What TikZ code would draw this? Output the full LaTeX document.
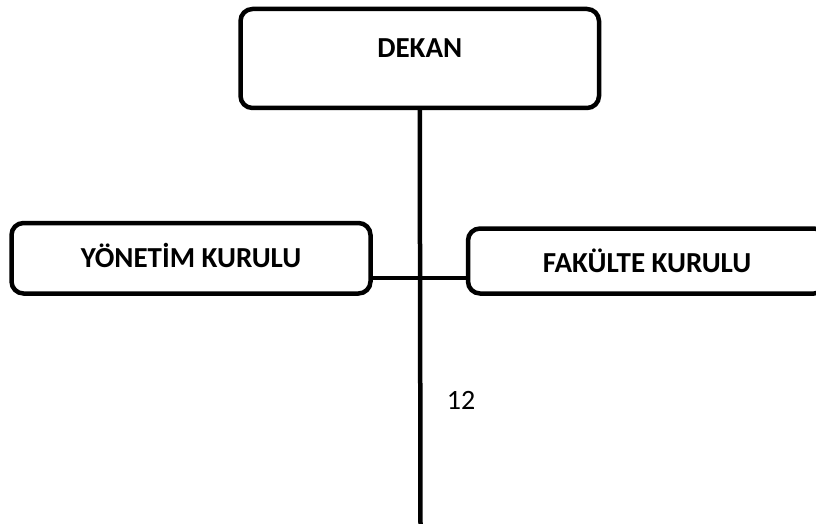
\documentclass[tikz,border=0pt]{standalone}
\usepackage{fontspec}
\setmainfont{Carlito}
\begin{document}
\begin{tikzpicture}[x=1pt, y=-1pt,
    kutu/.style={draw, line width=4.5pt, rounded corners=12pt, inner sep=0pt, outer sep=0pt,
      font=\fontsize{29}{30}\selectfont\bfseries},
    cizgi/.style={line width=4.5pt}]
    \useasboundingbox (0,0) rectangle (816,524);
    \clip (0,0) rectangle (816,524);

    % Boxes
    \node [kutu, minimum width=358.5pt, minimum height=99pt, text height=20pt, text depth=21pt]
      (dekan) at (419.75,58.5) {DEKAN};
    \node [kutu, minimum width=359pt, minimum height=70.5pt, text height=19pt, text depth=1.5pt]
      (yonetim) at (191,258.25) {YÖNETİM KURULU};
    \node [kutu, minimum width=358pt, minimum height=65pt, text height=23pt, text depth=1pt]
      (fakulte) at (647,261) {FAKÜLTE KURULU};

    % Lines
    \coordinate (alt) at (420.5,526);
    \coordinate (kol) at (420.5,278);
    \draw [cizgi] (dekan.south) -- (alt);
    \draw [cizgi] (yonetim.east |- kol) -- (fakulte.west |- kol);

    \node [font=\fontsize{28}{30}\selectfont] (sayfa) at (461,400) {12};
\end{tikzpicture}
\end{document}
